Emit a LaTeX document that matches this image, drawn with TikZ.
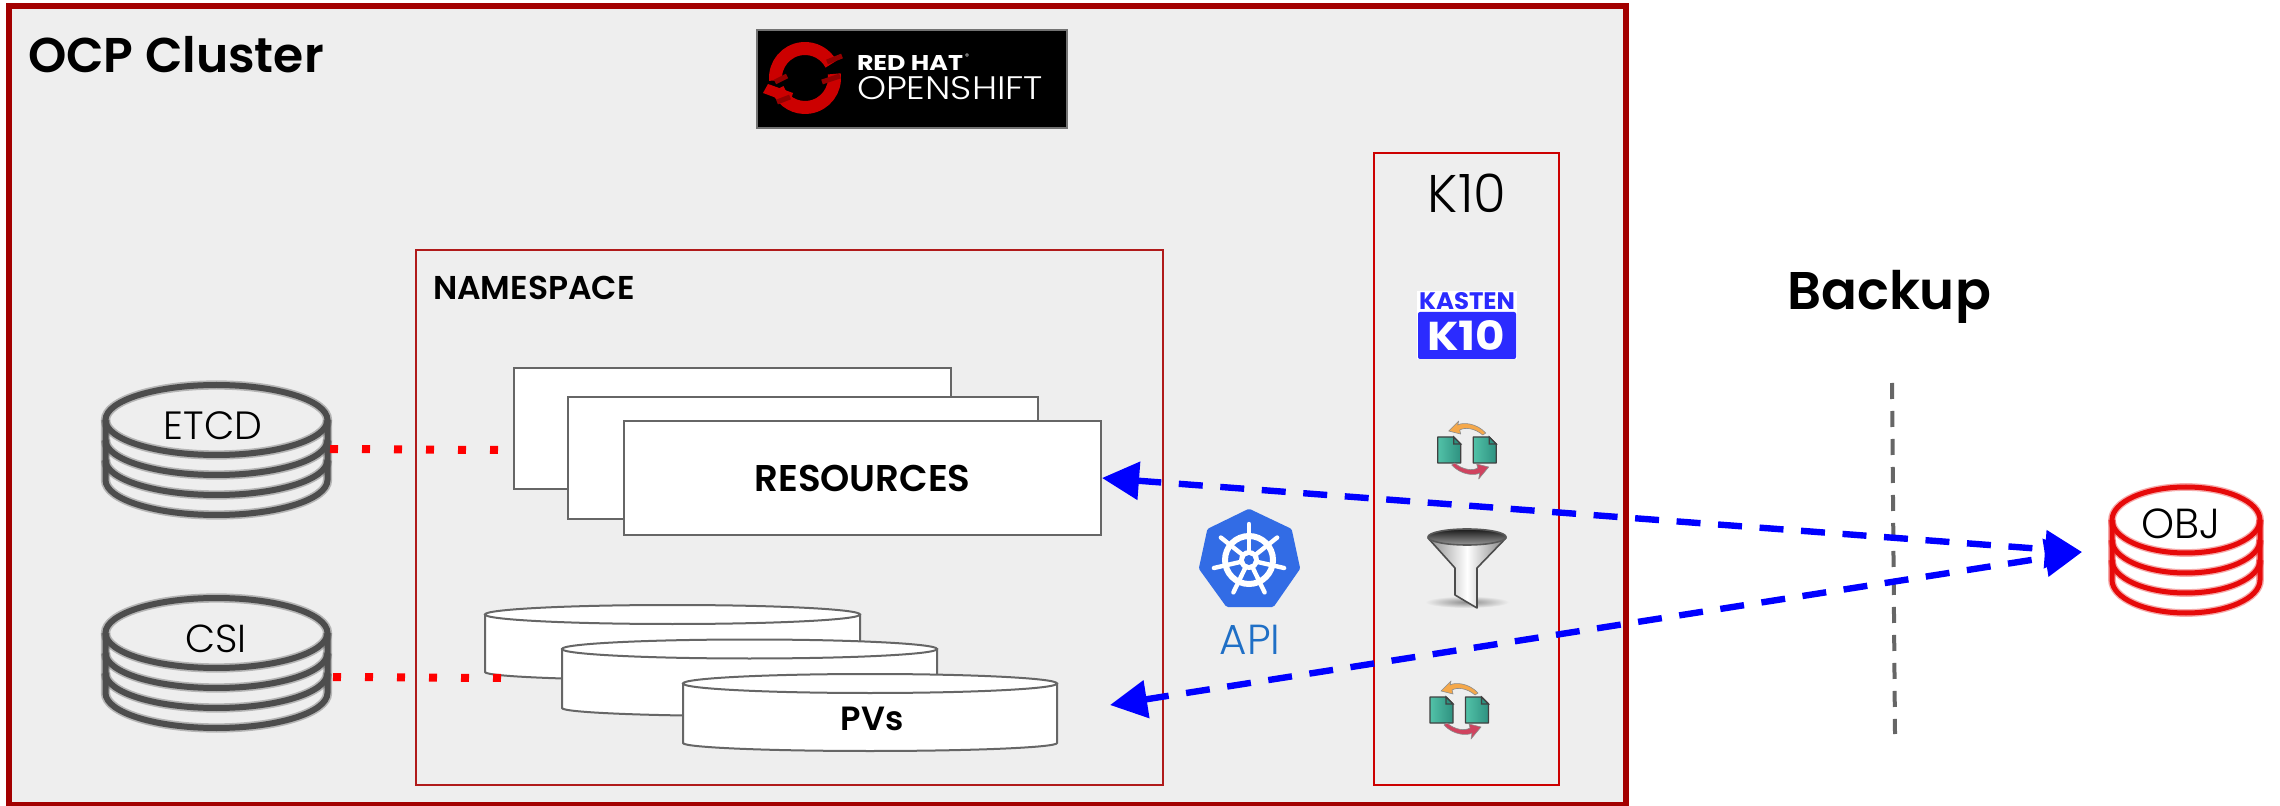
\documentclass[tikz,border=0pt]{standalone}
\usepackage{graphicx}
\usepackage{fontspec}
\setmainfont{Poppins}
\newfontfamily\thinfont{Poppins Light}
\newfontfamily\semifont{Poppins SemiBold}
\usetikzlibrary{arrows.meta,calc}
\definecolor{bgc}{HTML}{EEEEEE}
\definecolor{clusterc}{HTML}{A30000}
\definecolor{nsc}{HTML}{B01A1A}
\definecolor{kc}{HTML}{CC0000}
\definecolor{boxc}{HTML}{666666}
\definecolor{stackc}{HTML}{4D4D4D}
\definecolor{objc}{HTML}{E60A0A}
\definecolor{apic}{HTML}{326CE5}
\definecolor{apit}{HTML}{1F6FC6}
\definecolor{kasten}{HTML}{2B2BFF}
\definecolor{docl}{HTML}{52C2A8}
\definecolor{docr}{HTML}{2E9180}
\definecolor{syncor}{HTML}{F5A84A}
\definecolor{syncre}{HTML}{D0435F}
\tikzset{
  resbox/.style={draw=boxc,line width=1pt,fill=white,inner sep=0pt},
  lbl/.style={inner sep=0pt,outer sep=0pt,text=black},
  blueline/.style={draw={rgb,1:red,0;green,0;blue,1},line width=3.2pt,dash pattern=on 12pt off 8.8pt,
    {Triangle[length=18.5pt,width=18.5pt]}-{Triangle[length=18.5pt,width=18.5pt]}},
  reddots/.style={draw=red,line width=4pt,dash pattern=on 4pt off 12pt},
}
\newcommand{\fsz}[1]{\fontsize{#1}{#1}\selectfont}
% stack: cx cy rx ry colour fill lw
\newcommand{\dbstack}[7]{%
  \begin{scope}[shift={(#1,#2)}]
    \fill[#6] (-#3,0) -- (-#3,60) arc[start angle=180,end angle=0,x radius=#3,y radius=#4] -- (#3,0) arc[start angle=0,end angle=-180,x radius=#3,y radius=#4] -- cycle;
    \foreach \lw/\op in {1.55/0.35,1/1}{
      \draw[#5,line width=\lw*#7,opacity=\op] (0,0) ellipse[x radius=#3,y radius=#4];
      \draw[#5,line width=\lw*#7,opacity=\op] (-#3,0) -- (-#3,60) arc[start angle=180,end angle=0,x radius=#3,y radius=#4] -- (#3,0);
      \draw[#5,line width=\lw*#7,opacity=\op] (-#3,20) arc[start angle=180,end angle=0,x radius=#3,y radius=#4];
      \draw[#5,line width=\lw*#7,opacity=\op] (-#3,40) arc[start angle=180,end angle=0,x radius=#3,y radius=#4];
    }
  \end{scope}}
% pv cylinder: xl xr ytop(ellipse centre) ybottom
\newcommand{\pvcyl}[4]{%
  \pgfmathsetmacro{\rxx}{(#2-#1)/2}
  \pgfmathsetmacro{\cxx}{(#2+#1)/2}
  \draw[resbox] (#1,#3) -- (#1,#4) arc[start angle=180,end angle=0,x radius=\rxx,y radius=8] -- (#2,#3) -- cycle;
  \draw[resbox] (\cxx,#3) ellipse[x radius=\rxx,y radius=9.5];}
\newcommand{\syncicon}[2]{%
  \begin{scope}[shift={(#1,#2)}]
    \foreach \dx in {-29,6.5}{
      \begin{scope}[xshift=\dx*0.5pt]
        \path[left color=docl,right color=docr,draw=black!75,line width=0.7pt,line join=round]
           (0,-13) -- (16,-13) -- (23,-6) -- (23,13) -- (0,13) -- cycle;
        \draw[black!75,line width=0.6pt,fill=docr] (16,-13) -- (16,-6) -- (23,-6) -- cycle;
      \end{scope}}
    \draw[fill=syncor,draw=black!45,line width=0.3pt,line join=round]
      (19,-17) .. controls (10,-27) and (-4,-28) .. (-9,-25) -- (-8,-29) -- (-18,-19) -- (-6,-16) -- (-7,-20) .. controls (-2,-23) and (8,-22) .. (16,-15) -- cycle;
    \begin{scope}[rotate=180,xshift=-2pt]
    \draw[fill=syncre,draw=black!45,line width=0.3pt,line join=round]
      (19,-15) .. controls (10,-25) and (-4,-26) .. (-9,-23) -- (-8,-29) -- (-18,-17) -- (-6,-14) -- (-7,-18) .. controls (-2,-21) and (8,-20) .. (16,-13) -- cycle;
    \end{scope}
  \end{scope}}
\begin{document}
\begin{tikzpicture}[x=0.5pt,y=-0.5pt]
\useasboundingbox (0,0) rectangle (2280,806);
\fill[white] (0,0) rectangle (2280,806);
% cluster
\node[draw=clusterc,fill=bgc,line width=3pt,minimum width=808.25pt,minimum height=399.5pt,inner sep=0pt] (cluster) at (817.25,405.5) {};
\node[lbl,anchor=west] (ocp) at (28,55) {\semifont\fsz{24.4}OCP Cluster};
% openshift logo
\node[fill=black,draw=black!55,line width=1pt,minimum width=155pt,minimum height=49pt,inner sep=0pt] (logo) at (912,79) {};
\begin{scope}[shift={(805,78)},yscale=-1]
  \draw[kc,line width=6.5pt] (185:29.5) arc[start angle=185,end angle=28,radius=29.5];
  \draw[kc,line width=6.5pt] (8:29.5) arc[start angle=8,end angle=-158,radius=29.5];
  \fill[kc] (-42,-15) -- (-15,-25) -- (-12,-15) -- (-37,-6) -- cycle;
  \draw[clusterc!90!black,line width=2.5pt] (22,16) -- (37,22);
  \draw[clusterc!90!black,line width=2.5pt] (17,-4) -- (35,2);
  \draw[clusterc!90!black,line width=2.5pt] (-30,-4) -- (-18,2);
  \draw[clusterc!90!black,line width=2.5pt] (-28,-24) -- (-15,-19);
\end{scope}
\node[lbl,text=white] (redhat) at (910,63) {\resizebox{53pt}{7.5pt}{\bfseries RED HAT}};
\node[lbl,anchor=west,text=white] (rsym) at (965,57) {\fsz{4}®};
\node[lbl,text=white] (oshift) at (950,88.5) {\resizebox{93pt}{11.5pt}{\thinfont OPENSHIFT}};
% namespace
\node[draw=nsc,line width=1pt,minimum width=373.5pt,minimum height=267pt,inner sep=0pt] (ns) at (789.5,517.5) {};
\node[lbl,anchor=west] (nslbl) at (433,288) {\semifont\fsz{16.5}NAMESPACE};
% resources
\node[resbox,minimum width=218.5pt,minimum height=60.5pt] (r1) at (732.5,428.5) {};
\node[resbox,minimum width=235pt,minimum height=61pt] (r2) at (803,458) {};
\node[resbox,minimum width=238.5pt,minimum height=57pt] (res) at (862.5,478) {};
\node[lbl] at (res) {\semifont\fsz{18.6}RESOURCES};
% pvs
\pvcyl{485}{860}{614.5}{672}
\pvcyl{562}{937}{649}{708}
\pvcyl{683}{1057}{683.5}{743}
\node[lbl] (pvs) at (872,719) {\semifont\fsz{16.8}PVs};
% stacks
\dbstack{216.5}{420}{111}{35}{stackc}{bgc}{3pt}
\node[lbl] (etcd) at (213,426) {\thinfont\fsz{19.7}ETCD};
\dbstack{216.5}{633}{111}{35}{stackc}{bgc}{3pt}
\node[lbl] (csi) at (216,639) {\thinfont\fsz{19.5}CSI};
\dbstack{2186}{520}{74}{33}{objc}{white}{2.5pt}
\node[lbl] (obj) at (2181,524) {\thinfont\fsz{21}OBJ};
% dots
\coordinate (etcdR) at (330,449);
\coordinate (r1L) at (499,450);
\coordinate (csiR) at (333,677);
\coordinate (pvL) at (501,678);
\draw[reddots] (etcdR) -- (r1L);
\draw[reddots] (csiR) -- (pvL);
% K10 box
\node[draw=kc,line width=1.2pt,minimum width=92.5pt,minimum height=316pt,inner sep=0pt] (kbox) at (1466.5,469) {};
\node[lbl] (ktitle) at (1467,193) {\thinfont\fsz{26.5}K10};
% kasten logo
\node[fill=white,minimum width=50pt,minimum height=34pt,inner sep=0pt] (kastbg) at (1467,325) {};
\node[lbl,text=kasten] (kastxt) at (1467,301) {\resizebox{48pt}{8.5pt}{\bfseries KASTEN}};
\node[fill=kasten,rounded corners=1pt,minimum width=49pt,minimum height=23.5pt,inner sep=0pt] (kastbox) at (1467,335.5) {};
\node[lbl,text=white] (kastk) at (1466,335.5) {\resizebox{39pt}{15pt}{\bfseries K10}};
% icons
\syncicon{1466.7}{450}
\syncicon{1459}{710}
% funnel
\shade[inner color=black!45,outer color=bgc] (1467,602) ellipse[x radius=42,y radius=6];
\path[left color=black!45,right color=black!50,middle color=white,draw=black!70,line width=0.8pt,line join=round]
  (1428,538) -- (1506,538) -- (1477,568) -- (1477,608) -- (1455,595) -- (1455,568) -- cycle;
\path[top color=black!90,bottom color=black!40,draw=black!65,line width=0.8pt] (1467,537) ellipse[x radius=39,y radius=8];
% API icon
\path[fill=apic,draw=apic,line width=3pt,line join=round]
  (1249,512) -- (1289,531) -- (1297,568) -- (1272,604) -- (1228,604) -- (1202,568) -- (1210,531) -- cycle;
\begin{scope}[shift={(1249,560)}]
  \draw[white,line width=3pt] (0,0) circle[radius=24];
  \foreach \a in {0,...,6}{
    \draw[white,line width=2.2pt,line cap=round] ({-90+\a*51.43}:9) -- ({-90+\a*51.43}:36);}
  \fill[white] (0,0) circle[radius=10];
  \fill[apic] (0,0) circle[radius=5];
\end{scope}
\node[lbl,text=apit] (api) at (1250,640) {\thinfont\fsz{21}API};
% backup
\node[lbl] (backup) at (1889,297) {\semifont\fsz{26.5}Backup};
\coordinate (vtop) at (1892,383);
\coordinate (vbot) at (1895,734);
\draw[draw=boxc,line width=2pt,dash pattern=on 8pt off 6pt] (vtop) -- (vbot);
% arrows
\coordinate (objtip) at (2082,552);
\coordinate (pvtip) at (1110,705);
\draw[blueline] (res.east) -- (objtip);
\draw[blueline] (pvtip) -- (objtip);
\end{tikzpicture}
\end{document}
